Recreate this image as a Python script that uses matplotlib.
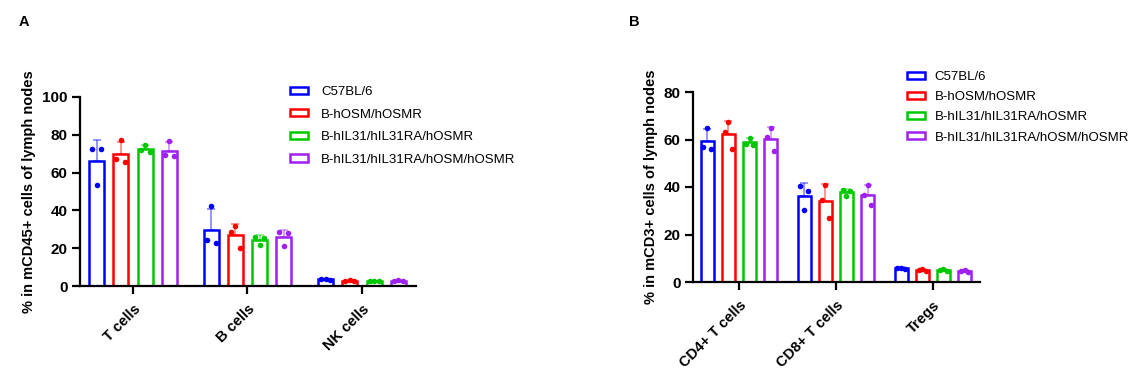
import numpy as np
import matplotlib
matplotlib.use("Agg")
import matplotlib.pyplot as plt
from matplotlib.patches import Patch

plt.rcParams['font.family'] = ['Liberation Sans', 'DejaVu Sans']

grupos = ['C57BL/6', 'B-hOSM/hOSMR', 'B-hIL31/hIL31RA/hOSMR', 'B-hIL31/hIL31RA/hOSM/hOSMR']
cores = ['#0000ff', '#ff0000', '#00c800', '#a020f0']

# Painel A: % in mCD45+ cells (pontos individuais: esquerda, centro, direita)
cat_a = ['T cells', 'B cells', 'NK cells']
pontos_a = {
    'C57BL/6': [[72.5, 53.5, 72.5], [24.3, 42.5, 22.6], [3.6, 3.9, 3.1]],
    'B-hOSM/hOSMR': [[67.0, 77.0, 65.5], [28.5, 32.0, 20.3], [2.9, 3.1, 2.5]],
    'B-hIL31/hIL31RA/hOSMR': [[72.0, 74.8, 71.0], [26.1, 21.7, 25.4], [2.6, 2.9, 2.5]],
    'B-hIL31/hIL31RA/hOSM/hOSMR': [[69.1, 76.9, 68.6], [28.4, 21.3, 27.9], [2.8, 3.2, 2.6]],
}

# Painel B: % in mCD3+ cells
cat_b = ['CD4+ T cells', 'CD8+ T cells', 'Tregs']
pontos_b = {
    'C57BL/6': [[57.0, 65.0, 56.0], [40.3, 30.3, 38.3], [5.9, 6.1, 5.4]],
    'B-hOSM/hOSMR': [[63.0, 67.5, 56.0], [34.7, 41.0, 27.1], [5.0, 5.3, 4.6]],
    'B-hIL31/hIL31RA/hOSMR': [[58.0, 60.8, 57.8], [38.8, 36.2, 38.5], [5.2, 5.5, 4.8]],
    'B-hIL31/hIL31RA/hOSM/hOSMR': [[61.0, 64.8, 55.3], [36.5, 41.0, 32.3], [4.7, 4.9, 4.4]],
}


def painel(ax, categorias, pontos, ymax, passo, ylabel, larg):
    x = np.arange(len(categorias))
    desloc = (np.arange(len(grupos)) - 1.5) * larg * 1.62
    for i, g in enumerate(grupos):
        vals = np.array(pontos[g])
        media = vals.mean(axis=1)
        dp = vals.std(axis=1, ddof=1)
        xi = x + desloc[i]
        # barra de erro so para cima (media + DP)
        ax.errorbar(xi, media, yerr=[np.zeros_like(dp), dp], fmt='none',
                    ecolor=cores[i], alpha=0.45, elinewidth=1.3, capsize=3,
                    capthick=1.3, zorder=1)
        ax.bar(xi, media, width=larg, facecolor='white', edgecolor=cores[i],
               linewidth=1.8, zorder=2, label=g)
        for j in range(len(categorias)):
            jit = np.array([-0.3, 0.0, 0.3]) * larg
            ax.plot(xi[j] + jit, vals[j], 'o', color=cores[i], ms=4,
                    mec='none', zorder=3)
    ax.set_ylim(0, ymax)
    ax.set_yticks(np.arange(0, ymax + 1, passo))
    ax.set_xticks(x)
    ax.set_xticklabels(categorias, rotation=45, ha='right',
                       rotation_mode='anchor', fontweight='bold', fontsize=10.5)
    for t in ax.get_yticklabels():
        t.set_fontweight('bold')
        t.set_fontsize(11)
    ax.set_ylabel(ylabel, fontweight='bold', fontsize=10.5)
    for s in ['top', 'right']:
        ax.spines[s].set_visible(False)
    for s in ['left', 'bottom']:
        ax.spines[s].set_linewidth(1.6)
    ax.tick_params(width=1.6, length=5.5)
    ax.tick_params(axis='x', pad=6)


fig = plt.figure(figsize=(11.36, 3.81), dpi=100)
W, H = 1136, 381

ax1 = fig.add_axes([80 / W, (H - 286) / H, 336 / W, 189 / H])
painel(ax1, cat_a, pontos_a, 100, 20, '% in mCD45+ cells of lymph nodes', 0.131)
ax1.set_xlim(-0.463, 2.472)

ax2 = fig.add_axes([693 / W, (H - 282) / H, 287 / W, 190 / H])
painel(ax2, cat_b, pontos_b, 80, 20, '% in mCD3+ cells of lymph nodes', 0.134)
ax2.set_xlim(-0.474, 2.485)

alcas = [Patch(facecolor='white', edgecolor=c, linewidth=1.8) for c in cores]
fig.legend(alcas, grupos, loc='upper left', bbox_to_anchor=(290 / W, (H - 86) / H),
           frameon=False, fontsize=9.5, handlelength=1.36, handleheight=0.45,
           handletextpad=1.0, labelspacing=0.8, borderpad=0, borderaxespad=0)
fig.legend(alcas, grupos, loc='upper left', bbox_to_anchor=(907 / W, (H - 71) / H),
           frameon=False, fontsize=9.5, handlelength=1.36, handleheight=0.45,
           handletextpad=0.75, labelspacing=0.62, borderpad=0, borderaxespad=0)

fig.text(24 / W, (H - 22) / H, 'A', fontweight='bold', fontsize=10.5, ha='center', va='center')
fig.text(634 / W, (H - 22) / H, 'B', fontweight='bold', fontsize=10.5, ha='center', va='center')

fig.savefig('out.png', dpi=100)
